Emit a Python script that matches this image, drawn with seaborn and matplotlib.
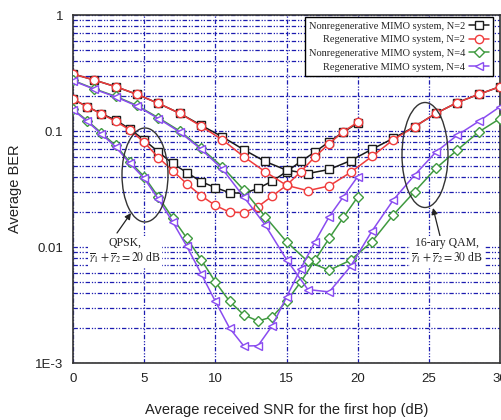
import numpy as np
import pandas as pd
import matplotlib
matplotlib.use("Agg")
import matplotlib.pyplot as plt
import seaborn as sns
from matplotlib.patches import Ellipse
from matplotlib.ticker import FixedLocator, NullFormatter, FixedFormatter

# ---------------- data ----------------
x_qpsk = [0, 1, 2, 3, 4, 5, 6, 7, 8, 9, 10, 11, 12, 13, 14, 15, 16, 17, 18, 19, 20]
x_qam = [0, 1.5, 3, 4.5, 6, 7.5, 9, 10.5, 12, 13.5, 15, 16.5, 18, 19.5, 21, 22.5, 24, 25.5, 27, 28.5, 30]

qpsk_nonregen_n2 = [0.188, 0.162, 0.141, 0.124, 0.104, 0.0837, 0.066, 0.0525, 0.0438, 0.0366, 0.0325,
                    0.0294, 0.029, 0.032, 0.037, 0.0446, 0.0546, 0.066, 0.0808, 0.098, 0.117]
qpsk_regen_n2 = [0.188, 0.162, 0.140, 0.121, 0.102, 0.080, 0.059, 0.0455, 0.035, 0.0277, 0.0228,
                 0.020, 0.0198, 0.0223, 0.0275, 0.034, 0.0446, 0.060, 0.078, 0.099, 0.119]
qpsk_nonregen_n4 = [0.154, 0.123, 0.096, 0.075, 0.054, 0.0405, 0.027, 0.0178, 0.0119, 0.0078, 0.0050,
                    0.0034, 0.0026, 0.0023, 0.0025, 0.0034, 0.0050, 0.0077, 0.0119, 0.018, 0.027]
qpsk_regen_n4 = [0.152, 0.121, 0.094, 0.073, 0.0525, 0.0391, 0.0258, 0.0165, 0.0101, 0.0059, 0.0034,
                 0.0020, 0.0014, 0.00141, 0.0021, 0.0037, 0.0065, 0.0111, 0.0183, 0.0272, 0.0404]

qam_nonregen_n2 = [0.310, 0.275, 0.241, 0.207, 0.173, 0.142, 0.112, 0.089, 0.069, 0.0546, 0.046,
                   0.043, 0.0466, 0.0555, 0.0696, 0.0865, 0.109, 0.142, 0.176, 0.207, 0.241]
qam_regen_n2 = [0.310, 0.275, 0.241, 0.207, 0.173, 0.142, 0.110, 0.084, 0.060, 0.0446, 0.034,
                0.0306, 0.0336, 0.0440, 0.0603, 0.084, 0.109, 0.142, 0.176, 0.207, 0.241]
qam_nonregen_n4 = [0.273, 0.231, 0.199, 0.166, 0.130, 0.100, 0.071, 0.049, 0.031, 0.0183, 0.0111,
                   0.0075, 0.0063, 0.0077, 0.0111, 0.0189, 0.030, 0.0477, 0.0686, 0.098, 0.128]
qam_regen_n4 = [0.271, 0.229, 0.197, 0.164, 0.128, 0.098, 0.0696, 0.0470, 0.027, 0.0155, 0.0078,
                0.0043, 0.0041, 0.0068, 0.0137, 0.0254, 0.0417, 0.066, 0.092, 0.121, 0.162]

labels = ["Nonregenerative MIMO system, N=2", "Regenerative MIMO system, N=2",
          "Nonregenerative MIMO system, N=4", "Regenerative MIMO system, N=4"]
xticks = [0, 5, 10, 15, 20, 25, 30]
yticks = [1e-3, 1e-2, 1e-1, 1]
ytick_labels = ["1E-3", "0.01", "0.1", "1"]

# ---------------- style ----------------
sns.set_style("white")
plt.rcParams['font.family'] = ['Liberation Sans', 'DejaVu Sans']
plt.rcParams['mathtext.fontset'] = 'stix'

fig = plt.figure(figsize=(5.01, 4.2), dpi=100)
fig.patch.set_facecolor('white')
ax = fig.add_axes([73 / 501, 1 - 363 / 420, 427 / 501, 348 / 420])

colors = ["#1a1a1a", "#f03c3c", "#3f9a3f", "#8a4cf0"]
markers = ["s", "o", "D", "<"]
msizes = [5.5, 6, 5, 6]

series = [
    (x_qpsk, qpsk_nonregen_n2, 0), (x_qam, qam_nonregen_n2, 0),
    (x_qpsk, qpsk_regen_n2, 1), (x_qam, qam_regen_n2, 1),
    (x_qpsk, qpsk_nonregen_n4, 2), (x_qam, qam_nonregen_n4, 2),
    (x_qpsk, qpsk_regen_n4, 3), (x_qam, qam_regen_n4, 3),
]
handles = {}
for xs, ys, k in series:
    df = pd.DataFrame({"x": xs, "y": ys})
    sns.lineplot(data=df, x="x", y="y", ax=ax, color=colors[k], marker=markers[k],
                 markersize=msizes[k], markerfacecolor="white", markeredgecolor=colors[k],
                 markeredgewidth=1.0, linewidth=1.1, legend=False, zorder=3)
    handles[k] = ax.get_lines()[-1]

ax.set_yscale('log')
ax.set_xlim(0, 30)
ax.set_ylim(1e-3, 1)

ax.yaxis.set_major_locator(FixedLocator(yticks))
ax.yaxis.set_major_formatter(FixedFormatter(ytick_labels))
minor = [m * 10.0 ** e for e in (-3, -2, -1) for m in range(2, 10)]
ax.yaxis.set_minor_locator(FixedLocator(minor))
ax.yaxis.set_minor_formatter(NullFormatter())
ax.xaxis.set_major_locator(FixedLocator(xticks))
ax.xaxis.set_minor_locator(FixedLocator([2.5, 7.5, 12.5, 17.5, 22.5, 27.5]))

ax.tick_params(axis='y', which='major', direction='out', length=5, width=1, colors='#333333',
               labelsize=9.5, labelcolor='#222222', pad=2)
ax.tick_params(axis='y', which='minor', direction='out', length=3, width=0.8, colors='#333333')
ax.tick_params(axis='x', which='major', direction='out', length=4, width=1, colors='#333333',
               labelsize=9.5, labelcolor='#222222', pad=3)
ax.tick_params(axis='x', which='minor', direction='in', length=4, width=0.8, colors='#333333')

dash = (0, (3.5, 1.5, 1, 1.2, 1, 1.5))
ax.grid(True, which='both', axis='y', color='#1c1cb0', linestyle=dash, linewidth=0.9)
ax.grid(True, which='major', axis='x', color='#1c1cb0', linestyle=dash, linewidth=0.9)
ax.set_axisbelow(True)

for s in ax.spines.values():
    s.set_color('#333333')
    s.set_linewidth(1.2)

ax.set_xlabel("Average received SNR for the first hop (dB)", fontsize=10.5, color='#222222')
ax.set_ylabel("Average BER", fontsize=10.5, color='#222222')
ax.xaxis.set_label_coords(0.5, -0.115)
ax.yaxis.set_label_coords(-0.12, 0.5)

leg = ax.legend([handles[k] for k in range(4)], labels, loc='upper right',
                bbox_to_anchor=(0.984, 0.994), borderaxespad=0, markerfirst=False,
                fancybox=False, framealpha=1, edgecolor='black',
                prop={'family': 'Liberation Serif', 'size': 7.5},
                handlelength=1.9, labelspacing=0.42, handletextpad=0.4, borderpad=0.4)
leg.get_frame().set_linewidth(1.0)
leg.set_zorder(5)

# ellipses (axes fraction)
def px2ax(px, py):
    return ((px - 73) / 427, 1 - (py - 15) / 348)

cx, cy = px2ax(145, 175)
ax.add_patch(Ellipse((cx, cy), 46 / 427, 94 / 348, transform=ax.transAxes, fill=False,
                     edgecolor='#333333', linewidth=1.0, zorder=4))
cx, cy = px2ax(425, 155)
ax.add_patch(Ellipse((cx, cy), 46 / 427, 105 / 348, transform=ax.transAxes, fill=False,
                     edgecolor='#333333', linewidth=1.0, zorder=4))

def px2fig(px, py):
    return (px / 501, 1 - py / 420)

txt_kw = dict(family='Liberation Serif', fontsize=8.5, ha='center', va='center',
              multialignment='center', color='#222222',
              bbox=dict(boxstyle='square,pad=0.1', fc='white', ec='none'), zorder=6)
fig.text(*px2fig(125, 251), "QPSK,\n$\\overline{\\gamma}_1+\\overline{\\gamma}_2=20$ dB", **txt_kw)
fig.text(*px2fig(447, 251), "16-ary QAM,\n$\\overline{\\gamma}_1+\\overline{\\gamma}_2=30$ dB", **txt_kw)

arrow_kw = dict(arrowstyle='-|>', color='#222222', lw=0.9, mutation_scale=9, shrinkA=0, shrinkB=0)
ax.annotate("", xy=px2fig(131, 213), xytext=px2fig(117, 233), xycoords='figure fraction',
            textcoords='figure fraction', arrowprops=arrow_kw, zorder=6)
ax.annotate("", xy=px2fig(433, 208), xytext=px2fig(440, 236), xycoords='figure fraction',
            textcoords='figure fraction', arrowprops=arrow_kw, zorder=6)

fig.savefig("out.png", dpi=100)
